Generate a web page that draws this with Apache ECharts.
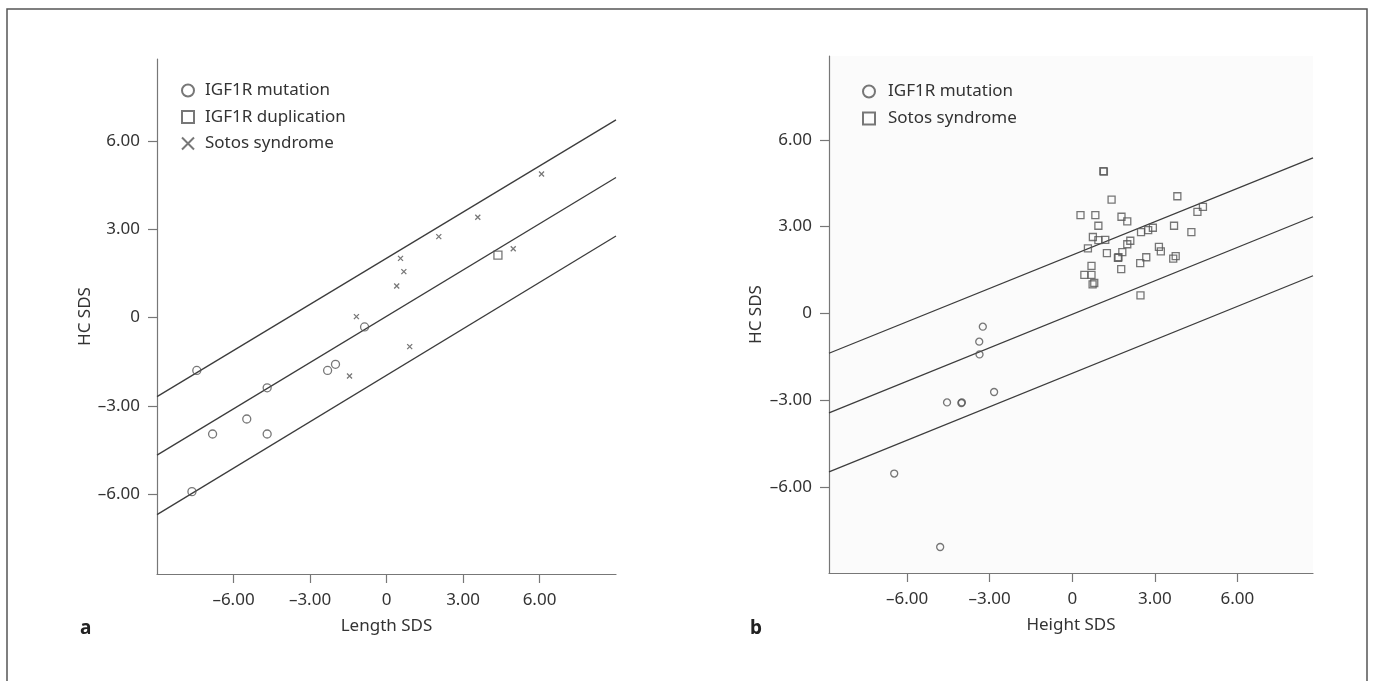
<!DOCTYPE html>
<html>
<head>
<meta charset="utf-8">
<script src="https://cdn.jsdelivr.net/npm/echarts@6/dist/echarts.min.js"></script>
<style>
  html, body { margin: 0; padding: 0; background: #fff; }
  #chart { width: 1375px; height: 681px; }
</style>
</head>
<body>
<div id="chart"></div>
<script>
// panel a: HC SDS vs Length SDS
const aMutation = [[-7.44, -1.80], [-4.68, -2.39], [-5.48, -3.45], [-6.82, -3.96], [-4.68, -3.96],
  [-7.63, -5.92], [-2.31, -1.80], [-2.0, -1.59], [-0.86, -0.32]];
const aDuplication = [[4.37, 2.12]];
const aSotos = [[-1.18, 0.03], [-1.45, -1.99], [0.91, -0.99], [6.08, 4.88], [3.58, 3.41], [2.05, 2.75],
  [0.55, 2.01], [0.68, 1.56], [0.40, 1.07], [4.97, 2.34]];
const aLines = [
  [[-9, -2.69], [9, 6.72]],
  [[-9, -4.68], [9, 4.76]],
  [[-9, -6.70], [9, 2.77]]
];

// panel b: HC SDS vs Height SDS
const bMutation = [[-3.25, -0.46], [-3.38, -0.98], [-3.37, -1.42], [-2.84, -2.72], [-4.55, -3.08],
  [-4.03, -3.10], [-4.01, -3.08], [-6.47, -5.54], [-4.80, -8.08]];
const bSotos = [[1.13, 4.92], [1.15, 4.90], [1.43, 3.93], [3.82, 4.05], [4.75, 3.68], [4.55, 3.51],
  [0.30, 3.40], [0.84, 3.40], [1.79, 3.34], [2.0, 3.18], [0.95, 3.03], [3.70, 3.03], [2.93, 2.96],
  [2.76, 2.88], [2.50, 2.81], [4.33, 2.81], [0.75, 2.64], [0.95, 2.53], [1.20, 2.54], [2.11, 2.51],
  [2.0, 2.39], [0.57, 2.25], [3.15, 2.30], [3.22, 2.14], [1.26, 2.08], [1.82, 2.12], [1.66, 1.92],
  [1.68, 1.94], [2.69, 1.94], [3.76, 1.98], [3.67, 1.89], [2.47, 1.74], [0.70, 1.64], [1.78, 1.53],
  [0.44, 1.33], [0.70, 1.33], [0.80, 1.05], [0.74, 1.00], [2.48, 0.62]];
const bLines = [
  [[-8.84, -1.38], [8.75, 5.38]],
  [[-8.84, -3.44], [8.75, 3.34]],
  [[-8.84, -5.48], [8.75, 1.30]]
];

const tickValues = [-6, -3, 0, 3, 6];

const font = 'Noto Sans';
const textColor = '#333';
const axisColor = '#777';
const markColor = '#555';
const lineColor = '#3c3c3c';
const crossPath = 'path://M0,0L10,10M0,10L10,0';

const fmt = (v) => (v === 0 ? '0' : v.toFixed(2).replace('-', '\u2013'));

function xAxisOf(grid, name, min, max) {
  return {
    type: 'value', gridIndex: grid, min: min, max: max,
    name: name, nameLocation: 'middle', nameGap: 44,
    nameTextStyle: { color: textColor, fontSize: 17, fontFamily: font },
    splitLine: { show: false },
    axisLine: { onZero: false, lineStyle: { color: axisColor, width: 1.2 } },
    axisTick: { customValues: tickValues, length: 9, lineStyle: { color: axisColor, width: 1.2 } },
    axisLabel: { customValues: tickValues, formatter: fmt, margin: 18, color: textColor, fontSize: 17, fontFamily: font }
  };
}

function yAxisOf(grid, min, max, gap) {
  return {
    type: 'value', gridIndex: grid, min: min, max: max,
    name: 'HC SDS', nameLocation: 'middle', nameGap: gap, nameRotate: 90,
    nameTextStyle: { color: textColor, fontSize: 17, fontFamily: font },
    splitLine: { show: false },
    axisLine: { show: true, onZero: false, lineStyle: { color: axisColor, width: 1.2 } },
    axisTick: { show: true, customValues: tickValues, length: 9, lineStyle: { color: axisColor, width: 1.2 } },
    axisLabel: { customValues: tickValues, formatter: fmt, margin: 17, color: textColor, fontSize: 17, fontFamily: font }
  };
}

function scatter(name, data, idx, symbol, size) {
  return {
    name: name, type: 'scatter', xAxisIndex: idx, yAxisIndex: idx,
    data: data, symbol: symbol, symbolSize: size, z: 3,
    itemStyle: { color: 'rgba(0,0,0,0)', borderColor: markColor, borderWidth: 1.3 }
  };
}

function fitLines(lines, idx) {
  return lines.map((l) => ({
    type: 'line', xAxisIndex: idx, yAxisIndex: idx, data: l,
    symbol: 'none', silent: true, z: 2,
    lineStyle: { color: lineColor, width: 1.3 }
  }));
}

const legendBase = {
  orient: 'vertical', itemWidth: 12, itemHeight: 12, itemGap: 9.5,
  textStyle: { color: textColor, fontSize: 17, fontFamily: font, lineHeight: 16, padding: [0, 0, 0, 6] }
};

const chart = echarts.init(document.getElementById('chart'), null, { renderer: 'canvas' });

chart.setOption({
  animation: false,
  backgroundColor: '#fff',
  title: [
    { text: 'a', left: 75, top: 614, textStyle: { fontSize: 19, fontWeight: 'bold', color: '#222', fontFamily: font } },
    { text: 'b', left: 745, top: 614, textStyle: { fontSize: 19, fontWeight: 'bold', color: '#222', fontFamily: font } }
  ],
  graphic: [
    { type: 'rect', shape: { x: 7, y: 9, width: 1360, height: 700 }, style: { fill: 'none', stroke: '#555', lineWidth: 1.5 } }
  ],
  grid: [
    { left: 157, top: 59, width: 459, height: 515 },
    { left: 829, top: 56, width: 484, height: 517, show: true, backgroundColor: '#fbfbfb', borderWidth: 0 }
  ],
  legend: [
    Object.assign({}, legendBase, { left: 176, top: 77, data: ['IGF1R mutation', 'IGF1R duplication', 'Sotos syndrome'] }),
    Object.assign({}, legendBase, { left: 857, top: 78, itemGap: 10, textStyle: Object.assign({}, legendBase.textStyle, { padding: [0, 0, 0, 8] }), data: ['IGF1R mutation ', 'Sotos syndrome '] })
  ],
  xAxis: [
    xAxisOf(0, 'Length SDS', -9, 9),
    xAxisOf(1, 'Height SDS', -8.84, 8.75)
  ],
  yAxis: [
    yAxisOf(0, -8.72, 8.79, 63),
    yAxisOf(1, -8.98, 8.9, 64)
  ],
  series: [
    ...fitLines(aLines, 0),
    scatter('IGF1R mutation', aMutation, 0, 'circle', 8),
    scatter('IGF1R duplication', aDuplication, 0, 'rect', 8),
    scatter('Sotos syndrome', aSotos, 0, crossPath, 5),
    ...fitLines(bLines, 1),
    scatter('IGF1R mutation ', bMutation, 1, 'circle', 7),
    scatter('Sotos syndrome ', bSotos, 1, 'rect', 7)
  ]
});
</script>
</body>
</html>
